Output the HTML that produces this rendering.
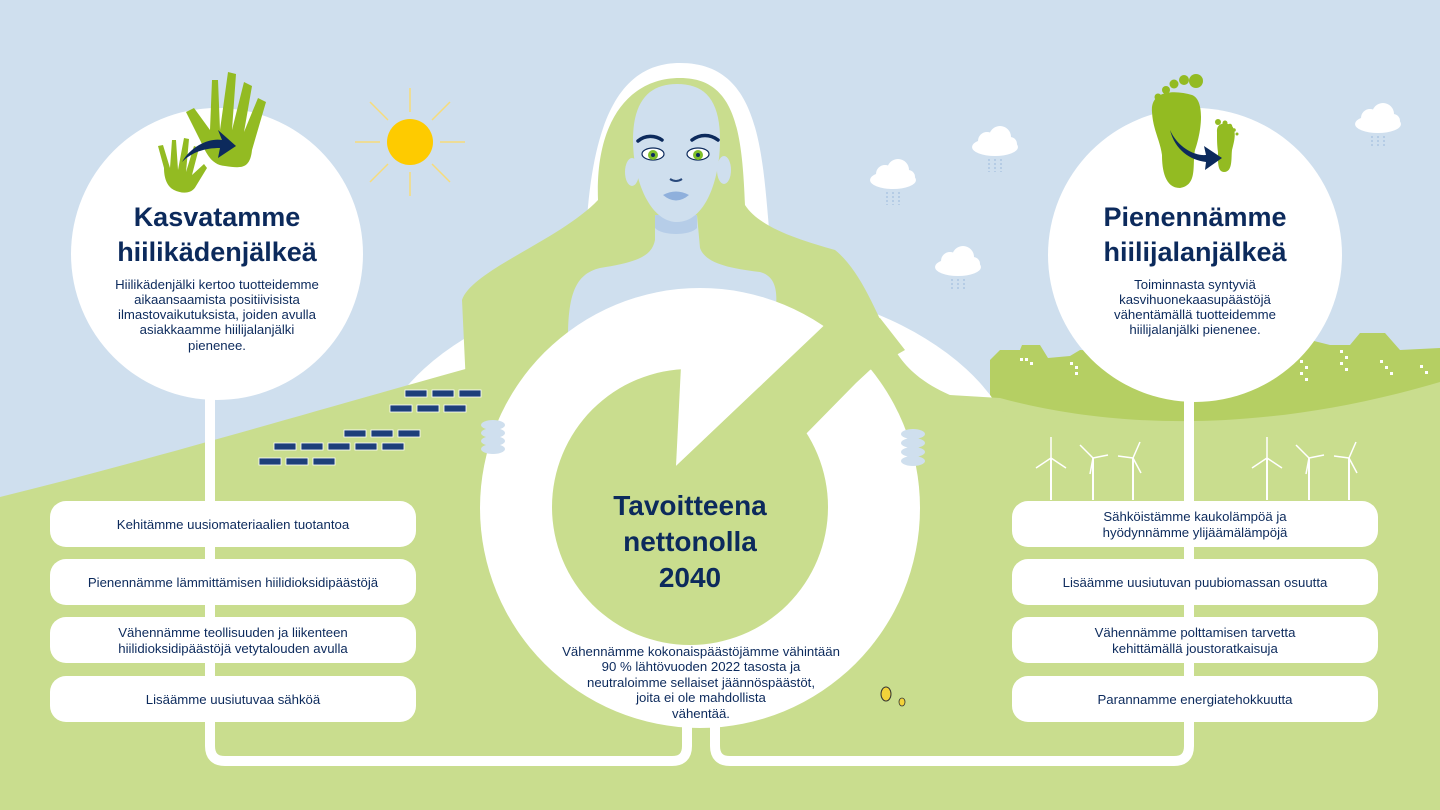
<!DOCTYPE html>
<html><head><meta charset="utf-8"><style>
html,body{margin:0;padding:0;width:1440px;height:810px;overflow:hidden;background:#cfdfee}
svg{display:block}
text{font-family:"Liberation Sans",sans-serif;fill:#0c2a5c}
</style></head><body>
<svg width="1440" height="810" viewBox="0 0 1440 810" xmlns="http://www.w3.org/2000/svg">
<rect width="1440" height="810" fill="#cfdfee"/>
<!-- sun -->
<g stroke="#f7dc7a" stroke-width="1.5">
<line x1="410" y1="88" x2="410" y2="112"/><line x1="410" y1="172" x2="410" y2="196"/>
<line x1="355" y1="142" x2="380" y2="142"/><line x1="440" y1="142" x2="465" y2="142"/>
<line x1="370" y1="102" x2="388" y2="120"/><line x1="432" y1="164" x2="450" y2="182"/>
<line x1="450" y1="102" x2="432" y2="120"/><line x1="388" y1="164" x2="370" y2="182"/>
</g>
<circle cx="410" cy="142" r="23" fill="#fecb00"/>
<!-- clouds -->
<g fill="#fff">
<g transform="translate(893,178)"><ellipse cx="0" cy="2" rx="23" ry="9"/><circle cx="-8" cy="-4" r="9"/><circle cx="5" cy="-8" r="11"/><circle cx="15" cy="-1" r="7"/></g>
<g transform="translate(995,145)"><ellipse cx="0" cy="2" rx="23" ry="9"/><circle cx="-8" cy="-4" r="9"/><circle cx="5" cy="-8" r="11"/><circle cx="15" cy="-1" r="7"/></g>
<g transform="translate(958,265)"><ellipse cx="0" cy="2" rx="23" ry="9"/><circle cx="-8" cy="-4" r="9"/><circle cx="5" cy="-8" r="11"/><circle cx="15" cy="-1" r="7"/></g>
<g transform="translate(1378,122)"><ellipse cx="0" cy="2" rx="23" ry="9"/><circle cx="-8" cy="-4" r="9"/><circle cx="5" cy="-8" r="11"/><circle cx="15" cy="-1" r="7"/></g>
</g>
<g stroke="#9bb8dc" stroke-width="1" stroke-dasharray="2,2">
<line x1="887" y1="192" x2="887" y2="205"/><line x1="893" y1="192" x2="893" y2="205"/><line x1="899" y1="192" x2="899" y2="205"/>
<line x1="989" y1="159" x2="989" y2="172"/><line x1="995" y1="159" x2="995" y2="172"/><line x1="1001" y1="159" x2="1001" y2="172"/>
<line x1="952" y1="279" x2="952" y2="290"/><line x1="958" y1="279" x2="958" y2="290"/><line x1="964" y1="279" x2="964" y2="290"/>
<line x1="1372" y1="136" x2="1372" y2="147"/><line x1="1378" y1="136" x2="1378" y2="147"/><line x1="1384" y1="136" x2="1384" y2="147"/>
</g>
<!-- dark green city hill -->
<path d="M990,360 L1000,350 L1020,350 L1022,345 L1040,345 L1048,358 L1070,356 L1080,350 L1130,352 L1140,345 L1300,345 L1310,340 L1330,345 L1350,345 L1360,333 L1385,333 L1400,350 L1440,348 L1440,440 L990,440 Z" fill="#b5cf63"/>
<g fill="#fff">
<rect x="1020" y="358" width="3" height="3"/><rect x="1025" y="358" width="3" height="3"/><rect x="1030" y="362" width="3" height="3"/>
<rect x="1070" y="362" width="3" height="3"/><rect x="1075" y="366" width="3" height="3"/><rect x="1075" y="372" width="3" height="3"/>
<rect x="1300" y="360" width="3" height="3"/><rect x="1305" y="366" width="3" height="3"/><rect x="1300" y="372" width="3" height="3"/><rect x="1305" y="378" width="3" height="3"/>
<rect x="1340" y="350" width="3" height="3"/><rect x="1345" y="356" width="3" height="3"/><rect x="1340" y="362" width="3" height="3"/><rect x="1345" y="368" width="3" height="3"/>
<rect x="1380" y="360" width="3" height="3"/><rect x="1385" y="366" width="3" height="3"/><rect x="1390" y="372" width="3" height="3"/>
<rect x="1420" y="365" width="3" height="3"/><rect x="1425" y="371" width="3" height="3"/>
</g>
<!-- white shoulders ellipse -->
<ellipse cx="695" cy="480" rx="326" ry="200" fill="#fff"/>
<!-- white hair outline -->
<path d="M585,300 C583,140 610,63 680,63 C760,63 762,150 770,240 C780,290 800,310 840,330 L585,330 Z" fill="#fff"/>
<!-- lower green -->
<path d="M0,497 C150,460 300,415 480,365 L700,380 L1000,398 C1100,425 1250,438 1440,382 L1440,810 L0,810 Z" fill="#c9dd8e"/>
<!-- hair -->
<path d="M598,200 C595,120 630,78 680,78 C735,78 742,130 745,205 C760,228 800,240 835,250 C860,270 875,310 890,340 C905,375 940,398 1005,412 L1020,470 L470,470 L462,300 C472,270 560,240 598,200 Z" fill="#c9dd8e"/>
<!-- torso -->
<path d="M655,215 L697,215 L700,248 C705,262 725,268 760,272 C782,278 778,305 770,340 L568,340 C568,295 575,274 600,268 C640,262 652,255 655,240 Z" fill="#cfdfee"/>
<path d="M655,215 L697,215 L697,228 C690,236 662,236 655,228 Z" fill="#b6cde8"/>
<!-- face -->
<ellipse cx="632" cy="172" rx="7" ry="14" fill="#cfdfee"/>
<ellipse cx="724" cy="170" rx="7" ry="14" fill="#cfdfee"/>
<path d="M633,140 C633,100 650,84 677,84 C705,84 720,100 720,140 C720,180 705,222 677,222 C650,222 633,180 633,140 Z" fill="#cfdfee"/>
<path d="M638,141 C645,135 655,135 662,140 M692,140 C700,134 710,134 718,140" stroke="#0c2a5c" stroke-width="3.5" fill="none" stroke-linecap="round"/>
<ellipse cx="653" cy="154" rx="11" ry="6" fill="#fff" stroke="#0c2a5c" stroke-width="1.2"/>
<ellipse cx="698" cy="154" rx="11" ry="6" fill="#fff" stroke="#0c2a5c" stroke-width="1.2"/>
<circle cx="653" cy="155" r="5" fill="#7fbf2a"/><circle cx="698" cy="155" r="5" fill="#7fbf2a"/>
<circle cx="653" cy="155" r="2" fill="#0c2a5c"/><circle cx="698" cy="155" r="2" fill="#0c2a5c"/>
<path d="M670,179 Q676,183 682,179" stroke="#2a4a7c" stroke-width="2" fill="none"/>
<path d="M663,195 Q676,188 689,195 Q676,206 663,195 Z" fill="#8fb0dc"/>
<!-- ring -->
<circle cx="700" cy="508" r="220" fill="#fff"/>
<circle cx="690" cy="507" r="138" fill="#c9dd8e"/>
<polygon points="676,466 681,366 813,336" fill="#fff"/>
<polygon points="640,500 676,466 813,336 835,315 880,318 905,350 870,370 856,383 800,440 720,520" fill="#c9dd8e"/>
<!-- hands -->
<g fill="#cfdfee">
<ellipse cx="493" cy="425" rx="12" ry="5"/><ellipse cx="493" cy="433" rx="12" ry="5"/><ellipse cx="493" cy="441" rx="12" ry="5"/><ellipse cx="493" cy="449" rx="12" ry="5"/>
<ellipse cx="913" cy="434" rx="12" ry="5"/><ellipse cx="913" cy="443" rx="12" ry="5"/><ellipse cx="913" cy="452" rx="12" ry="5"/><ellipse cx="913" cy="461" rx="12" ry="5"/>
</g>
<!-- solar panels -->
<g fill="#1d3f7a" stroke="#fff" stroke-width="0.8">
<rect x="405" y="390" width="22" height="7"/><rect x="432" y="390" width="22" height="7"/><rect x="459" y="390" width="22" height="7"/>
<rect x="390" y="405" width="22" height="7"/><rect x="417" y="405" width="22" height="7"/><rect x="444" y="405" width="22" height="7"/>
<rect x="344" y="430" width="22" height="7"/><rect x="371" y="430" width="22" height="7"/><rect x="398" y="430" width="22" height="7"/>
<rect x="274" y="443" width="22" height="7"/><rect x="301" y="443" width="22" height="7"/><rect x="328" y="443" width="22" height="7"/><rect x="355" y="443" width="22" height="7"/><rect x="382" y="443" width="22" height="7"/>
<rect x="259" y="458" width="22" height="7"/><rect x="286" y="458" width="22" height="7"/><rect x="313" y="458" width="22" height="7"/>
</g>
<!-- windmills -->
<g stroke="#fff" stroke-width="2">
<line x1="1051" y1="458" x2="1051" y2="500"/><line x1="1093" y1="458" x2="1093" y2="500"/><line x1="1133" y1="458" x2="1133" y2="500"/>
<line x1="1267" y1="458" x2="1267" y2="500"/><line x1="1309" y1="458" x2="1309" y2="500"/><line x1="1349" y1="458" x2="1349" y2="500"/>
</g>
<g stroke="#fff" stroke-width="1.5">
<path d="M1051,458 L1051,437 M1051,458 L1036,468 M1051,458 L1066,468"/>
<path d="M1093,458 L1080,445 M1093,458 L1090,474 M1093,458 L1108,455"/>
<path d="M1133,458 L1140,442 M1133,458 L1118,456 M1133,458 L1141,473"/>
<path d="M1267,458 L1267,437 M1267,458 L1252,468 M1267,458 L1282,468"/>
<path d="M1309,458 L1296,445 M1309,458 L1306,474 M1309,458 L1324,455"/>
<path d="M1349,458 L1356,442 M1349,458 L1334,456 M1349,458 L1357,473"/>
</g>
<!-- bees -->
<ellipse cx="886" cy="694" rx="5" ry="7" fill="#f2d23a" stroke="#333" stroke-width="1"/>
<ellipse cx="902" cy="702" rx="3" ry="4" fill="#f2d23a" stroke="#333" stroke-width="0.8"/>
<!-- big circles and stems -->
<g fill="none" stroke="#fff" stroke-width="10">
<path d="M210,390 V746 Q210,761 225,761 H672 Q687,761 687,746 V720"/>
<path d="M1189,390 V746 Q1189,761 1174,761 H730 Q715,761 715,746 V720"/>
</g>
<circle cx="217" cy="254" r="146" fill="#fff"/>
<circle cx="1195" cy="255" r="147" fill="#fff"/>
<!-- hands icon -->
<g fill="#93bb22">
<path d="M212,80 L218,80 L220,130 L228,72 L236,74 L232,130 L244,82 L252,86 L244,132 L258,98 L266,102 L252,150 C250,170 240,168 225,166 C210,165 205,150 200,140 L186,112 L194,108 L210,130 Z"/>
<path d="M172,140 L176,140 L178,170 L184,138 L189,139 L186,172 L194,146 L199,148 L192,175 L204,164 L207,168 L196,186 C192,194 182,194 174,190 C166,186 164,176 164,168 L158,146 L163,145 L170,168 Z"/>
</g>
<path d="M182,162 C192,145 210,138 222,140 L218,130 L236,146 L218,158 L220,148 C205,148 192,152 182,162 Z" fill="#0c2a5c"/>
<!-- feet icon -->
<g fill="#93bb22">
<path d="M1152,112 C1150,90 1175,90 1192,95 C1205,100 1202,130 1195,150 C1192,165 1198,185 1180,188 C1165,188 1162,170 1162,155 C1160,140 1153,130 1152,112 Z"/>
<circle cx="1196" cy="81" r="7"/><circle cx="1184" cy="80" r="5"/><circle cx="1174" cy="84" r="4.5"/><circle cx="1166" cy="90" r="4"/><circle cx="1158" cy="97" r="3.5"/>
<path d="M1217,132 C1216,122 1227,122 1232,126 C1237,132 1234,142 1232,150 C1231,158 1233,172 1224,172 C1217,172 1218,160 1218,152 C1217,145 1217,140 1217,132 Z"/>
<circle cx="1218" cy="122" r="3"/><circle cx="1225" cy="123" r="2.5"/><circle cx="1230" cy="126" r="2.2"/><circle cx="1234" cy="130" r="1.8"/><circle cx="1237" cy="134" r="1.5"/>
</g>
<path d="M1170,130 C1178,148 1195,156 1206,155 L1204,146 L1222,158 L1205,170 L1206,162 C1190,160 1175,150 1170,130 Z" fill="#0c2a5c"/>
<!-- circle text -->
<g text-anchor="middle" font-weight="bold" font-size="27">
<text x="217" y="226">Kasvatamme</text><text x="217" y="261">hiilikädenjälkeä</text>
<text x="1195" y="226">Pienennämme</text><text x="1195" y="261">hiilijalanjälkeä</text>
</g>
<g text-anchor="middle" font-size="13.2">
<text x="217" y="289">Hiilikädenjälki kertoo tuotteidemme</text>
<text x="217" y="304">aikaansaamista positiivisista</text>
<text x="217" y="319">ilmastovaikutuksista, joiden avulla</text>
<text x="217" y="334">asiakkaamme hiilijalanjälki</text>
<text x="217" y="350">pienenee.</text>
<text x="1195" y="289">Toiminnasta syntyviä</text>
<text x="1195" y="304">kasvihuonekaasupäästöjä</text>
<text x="1195" y="319">vähentämällä tuotteidemme</text>
<text x="1195" y="334">hiilijalanjälki pienenee.</text>
</g>
<!-- center text -->
<g text-anchor="middle" font-weight="bold" font-size="28">
<text x="690" y="515">Tavoitteena</text><text x="690" y="551">nettonolla</text><text x="690" y="587">2040</text>
</g>
<g text-anchor="middle" font-size="13.2">
<text x="701" y="656">Vähennämme kokonaispäästöjämme vähintään</text>
<text x="701" y="671">90 % lähtövuoden 2022 tasosta ja</text>
<text x="701" y="687">neutraloimme sellaiset jäännöspäästöt,</text>
<text x="701" y="702">joita ei ole mahdollista</text>
<text x="701" y="718">vähentää.</text>
</g>
<!-- pills -->
<g fill="#fff">
<rect x="50" y="501" width="366" height="46" rx="16"/><rect x="50" y="559" width="366" height="46" rx="16"/>
<rect x="50" y="617" width="366" height="46" rx="16"/><rect x="50" y="676" width="366" height="46" rx="16"/>
<rect x="1012" y="501" width="366" height="46" rx="16"/><rect x="1012" y="559" width="366" height="46" rx="16"/>
<rect x="1012" y="617" width="366" height="46" rx="16"/><rect x="1012" y="676" width="366" height="46" rx="16"/>
</g>
<g text-anchor="middle" font-size="13.2">
<text x="233" y="529">Kehitämme uusiomateriaalien tuotantoa</text>
<text x="233" y="587">Pienennämme lämmittämisen hiilidioksidipäästöjä</text>
<text x="233" y="637">Vähennämme teollisuuden ja liikenteen</text>
<text x="233" y="653">hiilidioksidipäästöjä vetytalouden avulla</text>
<text x="233" y="704">Lisäämme uusiutuvaa sähköä</text>
<text x="1195" y="521">Sähköistämme kaukolämpöä ja</text>
<text x="1195" y="537">hyödynnämme ylijäämälämpöjä</text>
<text x="1195" y="587">Lisäämme uusiutuvan puubiomassan osuutta</text>
<text x="1195" y="637">Vähennämme polttamisen tarvetta</text>
<text x="1195" y="653">kehittämällä joustoratkaisuja</text>
<text x="1195" y="704">Parannamme energiatehokkuutta</text>
</g>
</svg>
</body></html>
